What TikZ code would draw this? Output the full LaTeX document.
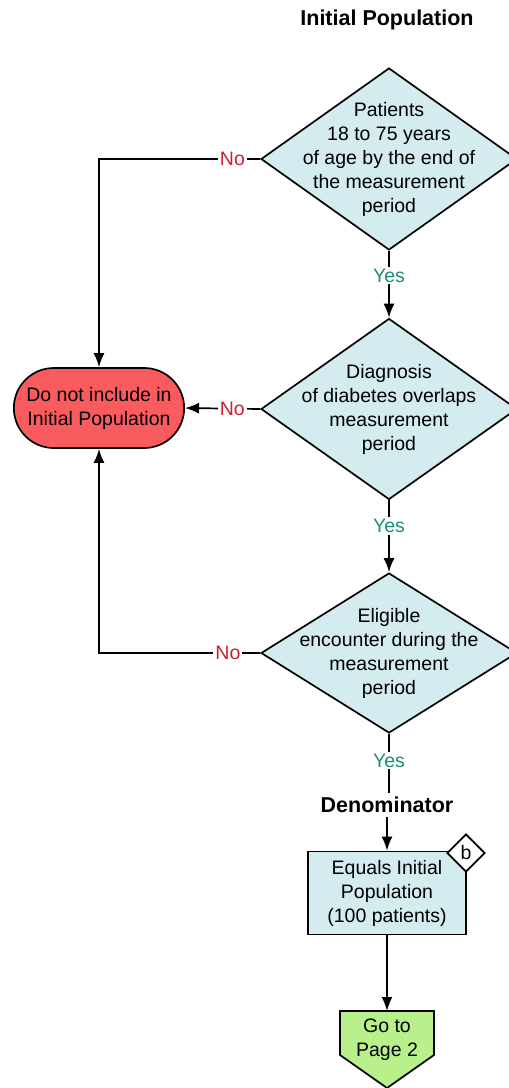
\documentclass[tikz,border=0pt]{standalone}
\usepackage{fontspec}
\setmainfont{Liberation Sans}
\usetikzlibrary{shapes.geometric,shapes.misc,arrows.meta}
\definecolor{decblue}{HTML}{D4EBF0}
\definecolor{termred}{HTML}{F95B5E}
\definecolor{gogreen}{HTML}{B8F08C}
\definecolor{yesgreen}{HTML}{1B9077}
\definecolor{nored}{HTML}{CC1F2F}

\begin{document}
\begin{tikzpicture}[x=1pt,y=-1pt,
    font=\fontsize{19.5}{24}\selectfont,
    every path/.style={line width=1.7pt},
    dec/.style={draw, diamond, fill=decblue, minimum width=256pt, inner sep=0pt},
    dtext/.style={align=center, inner sep=0pt},
    term/.style={draw, rounded rectangle, fill=termred, minimum width=177pt, minimum height=80pt, align=center},
    pbox/.style={draw, rectangle, fill=decblue, minimum width=158pt, minimum height=83pt, align=center},
    yes/.style={fill=white, text=yesgreen, inner sep=2pt},
    no/.style={fill=white, text=nored, inner sep=2pt},
    arr/.style={-{Latex[length=14pt,width=11pt]}}]
    \useasboundingbox (0,0) rectangle (509,1088);

    \node (title)   at (387,20)   [font=\fontsize{21.5}{24}\selectfont\bfseries] {Initial Population};
    \node (d1)      at (389,159)  [dec, minimum height=182pt,
        label={[dtext]center:{Patients\\18 to 75 years\\of age by the end of\\the measurement\\period}}] {};
    \node (d2)      at (389,409)  [dec, minimum height=181pt,
        label={[dtext]center:{Diagnosis\\of diabetes overlaps\\measurement\\period}}] {};
    \node (d3)      at (389,653)  [dec, minimum height=160pt,
        label={[dtext]center:{Eligible\\encounter during the\\measurement\\period}}] {};
    \node (excl)    at (99,408)   [term] {Do not include in\\Initial Population};
    \node (denom)   at (387,805)  [font=\fontsize{21.5}{24}\selectfont\bfseries] {Denominator};
    \node (denbox)  at (387,893)  [pbox] {Equals Initial\\Population\\(100 patients)};
    \node (bmark)   at (466,853)  [draw, diamond, fill=white, minimum size=38pt, inner sep=0pt] {b};

    % go to page 2
    \draw[fill=gogreen] (340,1011) -- (434,1011) -- (434,1055) -- (387,1088) -- (340,1055) -- cycle;
    \node (goto)    at (387,1040) [align=center] {Go to\\Page 2};
    \coordinate (gotop) at (387,1011);

    \draw[arr] (d1.west) -| node[no, pos=0.086] {No} (excl.north);
    \draw[arr] (d2.west) -- node[no, pos=0.37] {No} (excl.east);
    \draw[arr] (d3.west) -| node[no, pos=0.10] {No} (excl.south);

    \draw[arr] (d1.south) -- node[yes, pos=0.37] {Yes} (d2.north);
    \draw[arr] (d2.south) -- node[yes, pos=0.36] {Yes} (d3.north);
    \draw      (d3.south) -- node[yes, pos=0.45] {Yes} (d3.south |- denom.north);
    \draw[arr] (denom.south) -- (denom.south |- denbox.north);
    \draw[arr] (denbox.south) -- (gotop);
\end{tikzpicture}
\end{document}
